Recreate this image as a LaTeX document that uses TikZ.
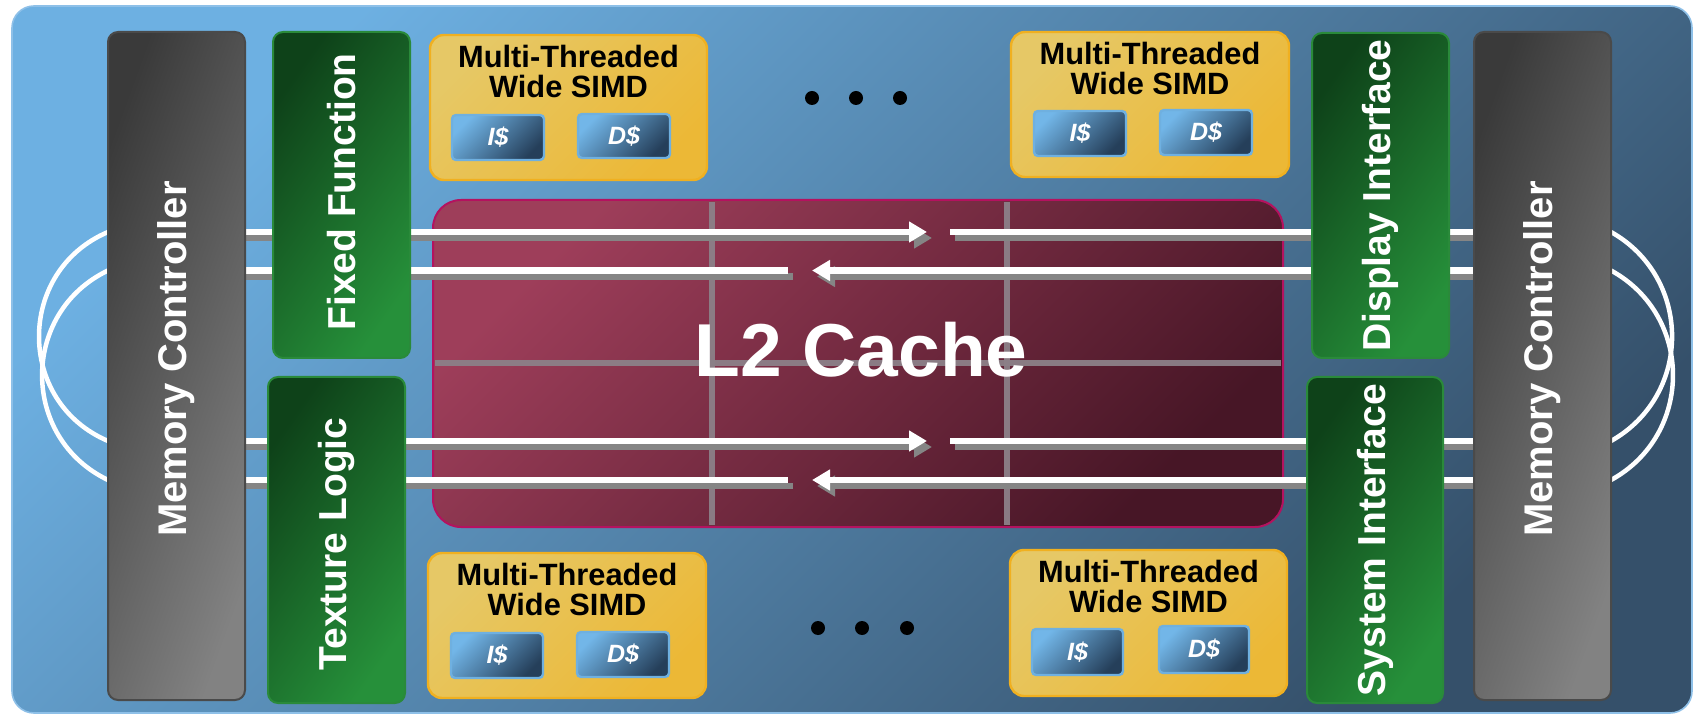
\documentclass[tikz,border=0pt]{standalone}
\usepackage{fontspec}
\setmainfont{Liberation Sans}
\usetikzlibrary{arrows.meta,fit,calc}
\pgfdeclarelayer{under}
\pgfsetlayers{under,main}
\definecolor{bgA}{HTML}{6DB0E2}
\definecolor{bgB}{HTML}{35506A}
\definecolor{bgEdge}{HTML}{8EC0E8}
\definecolor{mcA}{HTML}{3A3A3A}
\definecolor{mcB}{HTML}{828282}
\definecolor{mcEdge}{HTML}{4A4A4A}
\definecolor{grA}{HTML}{0E4219}
\definecolor{grB}{HTML}{26903A}
\definecolor{grEdge}{HTML}{2A8A3A}
\definecolor{smA}{HTML}{E6C866}
\definecolor{smB}{HTML}{ECB836}
\definecolor{smEdge}{HTML}{F0B020}
\definecolor{caA}{HTML}{72B6E8}
\definecolor{caB}{HTML}{253F5A}
\definecolor{caEdge}{HTML}{6FB0E0}
\definecolor{lA}{HTML}{9E3E5A}
\definecolor{lB}{HTML}{471626}
\definecolor{lEdge}{HTML}{B4125F}
\definecolor{gridC}{HTML}{8C8088}
\definecolor{shadC}{HTML}{858585}
\newcommand{\barpass}[1]{%
  \draw[#1, rtip] ($(mcl.east |- r1)+(-10,0)$) -- (ta1);
  \draw[#1] (sa1) -- ($(mcr.west |- r1)+(10,0)$);
  \draw[#1] ($(mcl.east |- r2)+(-10,0)$) -- (ea2);
  \draw[#1, ltip] (tb2) -- ($(mcr.west |- r2)+(10,0)$);
  \draw[#1, rtip] ($(mcl.east |- r3)+(-10,0)$) -- (ta3);
  \draw[#1] (sa3) -- ($(mcr.west |- r3)+(10,0)$);
  \draw[#1] ($(mcl.east |- r4)+(-10,0)$) -- (ea4);
  \draw[#1, ltip] (tb4) -- ($(mcr.west |- r4)+(10,0)$);
}
\begin{document}
\begin{tikzpicture}[x=0.5pt,y=-0.5pt,
  fitbox/.style={fit={#1}, inner sep=0pt, outer sep=0pt},
  bgbox/.style={rounded corners=11pt, draw=bgEdge, line width=0.8pt, top color=bgA, bottom color=bgB, shading angle=45},
  mcbox/.style={rounded corners=5pt, draw=mcEdge, line width=1pt, left color=mcA, right color=mcB, shading angle=70},
  grbox/.style={rounded corners=5pt, draw=grEdge, line width=1pt, top color=grA, bottom color=grB, shading angle=55},
  simdbox/.style={rounded corners=7pt, draw=smEdge, line width=1.2pt, top color=smA, bottom color=smB, shading angle=45},
  cachebox/.style={rounded corners=2pt, draw=caEdge, line width=1.2pt, top color=caA, bottom color=caB, shading angle=45},
  l2box/.style={rounded corners=14pt, draw=lEdge, line width=1pt, top color=lA, bottom color=lB, shading angle=45},
  sidelab/.style={rotate=90, text=white, font=\fontsize{19.5pt}{22pt}\selectfont\bfseries, inner sep=0pt},
  mclab/.style={rotate=90, text=white, font=\fontsize{20pt}{22pt}\selectfont\bfseries, inner sep=0pt},
  simdtitle/.style={align=center, font=\fontsize{15.4pt}{14.6pt}\selectfont\bfseries, inner sep=0pt},
  cachelab/.style={text=white, font=\fontsize{12.5pt}{14pt}\selectfont\bfseries\itshape, inner sep=0pt},
  biglab/.style={text=white, font=\fontsize{37.5pt}{40pt}\selectfont\bfseries, inner sep=0pt},
  whitebar/.style={draw=white, line width=3.25pt},
  shadowbar/.style={draw=shadC, line width=3.25pt, transform canvas={xshift=2.5pt,yshift=-3pt}},
  rtip/.style={-{Triangle[length=9pt,width=10pt]}},
  ltip/.style={{Triangle[length=9pt,width=10pt]}-},
  arcw/.style={draw=white, line width=2.25pt},
  gridline/.style={draw=gridC, line width=2.6pt, opacity=0.95},
  dotn/.style={circle, fill=black, minimum size=7pt, inner sep=0pt}
]
\useasboundingbox (0,0) rectangle (1695,715);

% memory controllers
\node[fitbox={(108,32) (245,700)}, mcbox] (mcl) {};
\node[mclab] (mclt) at ($(mcl.center)+(0,-7)$) {Memory Controller};
\node[fitbox={(1474,32) (1611,700)}, mcbox] (mcr) {};
\node[mclab] (mcrt) at ($(mcr.center)+(0,-7)$) {Memory Controller};

% row levels and arrow ends
\coordinate (r1) at (0,232);
\coordinate (r2) at (0,270.5);
\coordinate (r3) at (0,441);
\coordinate (r4) at (0,480);
\coordinate (ta1) at (927,232);
\coordinate (sa1) at (950,232);
\coordinate (ea2) at (788,270.5);
\coordinate (tb2) at (812,270.5);
\coordinate (ta3) at (927,441);
\coordinate (sa3) at (950,441);
\coordinate (ea4) at (788,480);
\coordinate (tb4) at (812,480);

\begin{pgfonlayer}{under}
\node[fitbox={(12,6) (1692,713)}, bgbox] (bg) {};
\node[fitbox={(433,200) (1283,527)}, l2box] (l2) {};
\coordinate (v1) at (712,0);
\coordinate (v2) at (1007,0);
\coordinate (h1) at (0,363);
\draw[gridline, shorten <=1pt, shorten >=1pt] (l2.north -| v1) -- (l2.south -| v1);
\draw[gridline, shorten <=1pt, shorten >=1pt] (l2.north -| v2) -- (l2.south -| v2);
\draw[gridline, shorten <=1pt, shorten >=1pt] (l2.west |- h1) -- (l2.east |- h1);
\node[biglab] (l2t) at (861,350) {L2 Cache};
\barpass{shadowbar}
\barpass{whitebar}
\draw[arcw] (mcl.west |- r1) .. controls +(-92,39.2) and +(-92,-39.2) .. (mcl.west |- r3);
\draw[arcw] (mcl.west |- r2) .. controls +(-87.9,42.1) and +(-87.9,-42.1) .. (mcl.west |- r4);
\draw[arcw] (mcr.east |- r1) .. controls +(81.4,45.9) and +(81.4,-45.9) .. (mcr.east |- r3);
\draw[arcw] (mcr.east |- r2) .. controls +(82.6,45.3) and +(82.6,-45.3) .. (mcr.east |- r4);
\end{pgfonlayer}

% green blocks
\node[fitbox={(273,32) (410,358)}, grbox] (ff) {};
\node[sidelab] (fft) at ($(ff.center)+(0,-3)$) {Fixed Function};
\node[fitbox={(268,377) (405,703)}, grbox] (tl) {};
\node[sidelab] (tlt) at ($(tl.center)+(0,4)$) {Texture Logic};
\node[fitbox={(1312,33) (1449,358)}, grbox] (di) {};
\node[sidelab] (dit) at (di.center) {Display Interface};
\node[fitbox={(1307,377) (1443,703)}, grbox] (si) {};
\node[sidelab] (sit) at (si.center) {System Interface};

% SIMD blocks
\node[fitbox={(430,35) (707,180)}, simdbox] (s1) {};
\node[simdtitle] (s1t) at ($(s1.north)+(0,36.5)$) {Multi-Threaded\\Wide SIMD};
\node[fitbox={(452,115) (544,160)}, cachebox] (i1) {};
\node[cachelab] (i1t) at (i1.center) {I\$};
\node[fitbox={(578,114) (670,158)}, cachebox] (d1) {};
\node[cachelab] (d1t) at (d1.center) {D\$};

\node[fitbox={(1011,32) (1289,177)}, simdbox] (s2) {};
\node[simdtitle] (s2t) at ($(s2.north)+(0,36.5)$) {Multi-Threaded\\Wide SIMD};
\node[fitbox={(1034,111) (1126,156)}, cachebox] (i2) {};
\node[cachelab] (i2t) at (i2.center) {I\$};
\node[fitbox={(1160,110) (1252,155)}, cachebox] (d2) {};
\node[cachelab] (d2t) at (d2.center) {D\$};

\node[fitbox={(428,553) (706,698)}, simdbox] (s3) {};
\node[simdtitle] (s3t) at ($(s3.north)+(0,36.5)$) {Multi-Threaded\\Wide SIMD};
\node[fitbox={(451,633) (543,678)}, cachebox] (i3) {};
\node[cachelab] (i3t) at (i3.center) {I\$};
\node[fitbox={(577,632) (669,677)}, cachebox] (d3) {};
\node[cachelab] (d3t) at (d3.center) {D\$};

\node[fitbox={(1010,550) (1287,696)}, simdbox] (s4) {};
\node[simdtitle] (s4t) at ($(s4.north)+(0,36.5)$) {Multi-Threaded\\Wide SIMD};
\node[fitbox={(1032,629) (1123,675)}, cachebox] (i4) {};
\node[cachelab] (i4t) at (i4.center) {I\$};
\node[fitbox={(1159,626) (1249,673)}, cachebox] (d4) {};
\node[cachelab] (d4t) at (d4.center) {D\$};

% ellipsis dots
\node[dotn] (ta) at (812,98) {};
\node[dotn] (tb) at (856,98) {};
\node[dotn] (tc) at (900,98) {};
\node[dotn] (ba) at (818,628) {};
\node[dotn] (bb) at (862,628) {};
\node[dotn] (bc) at (907,628) {};
\end{tikzpicture}
\end{document}
